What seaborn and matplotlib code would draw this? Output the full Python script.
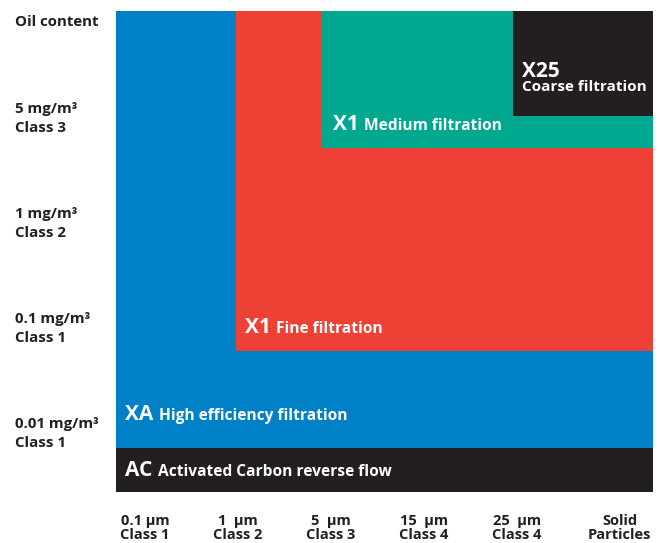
import matplotlib
matplotlib.use("Agg")
import matplotlib.pyplot as plt
import matplotlib.transforms as mtrans
import seaborn as sns
import pandas as pd

# ---------------- data ----------------
x_labels = ["0.1 µm\nClass 1", "1  µm\nClass 2", "5  µm\nClass 3",
            "15  µm\nClass 4", "25  µm\nClass 4", "Solid\nParticles"]
x_ticks = [0, 1, 2, 3, 4, 5.1]

y_labels = ["0.01 mg/m³\nClass 1", "0.1 mg/m³\nClass 1", "1 mg/m³\nClass 2",
            "5 mg/m³\nClass 3", "Oil content"]
y_ticks = [0, 1, 2, 3, 4]

codes = ["AC", "XA", "X1", "X1", "X25"]
names = ["Activated Carbon reverse flow", "High efficiency filtration",
         "Fine filtration", "Medium filtration", "Coarse filtration"]
x_start = [-0.31, -0.31, 0.98, 1.90, 3.96]
x_end = [5.46, 5.46, 5.46, 5.46, 5.46]
y_bottom = [-0.58, -0.16, 0.76, 2.70, 3.00]
y_top = [-0.16, 4.0, 4.0, 4.0, 4.0]
colors = ["#231F20", "#0080C6", "#EE4136", "#00A88F", "#231F20"]

df = pd.DataFrame({"code": codes, "label": names, "x0": x_start, "x1": x_end,
                   "y0": y_bottom, "y1": y_top, "color": colors})

# ---------------- plot ----------------
sns.set_theme(style="white")
plt.rcParams["font.family"] = ["Open Sans", "DejaVu Sans"]
txt_col = "#231F20"

fig = plt.figure(figsize=(6.6, 5.43), dpi=100)
ax = fig.add_axes([116 / 660, 51 / 543, 537 / 660, 481 / 543])

order = [1, 2, 3, 4, 0]
for i in order:
    r = df.iloc[i]
    ax.bar(r["x0"], r["y1"] - r["y0"], width=r["x1"] - r["x0"], bottom=r["y0"],
           align="edge", color=r["color"], linewidth=0)

ax.set_xlim(-0.31, 5.46)
ax.set_ylim(-0.58, 4.0)
sns.despine(ax=ax, left=True, bottom=True)
ax.set_xticks(x_ticks)
ax.set_xticklabels(x_labels, fontsize=10.5, fontweight="bold", color=txt_col,
                   linespacing=1.02)
ax.tick_params(axis="x", length=0, pad=16)
ax.set_yticks([])

ytrans = mtrans.blended_transform_factory(fig.transFigure, ax.transData)
for yv, lab in zip(y_ticks, y_labels):
    if lab == "Oil content":
        ax.text(15 / 660, yv - 0.04, lab, transform=ytrans, ha="left", va="top",
                fontsize=10.8, fontweight="bold", color=txt_col)
    else:
        ax.text(15 / 660, yv - 0.02, lab, transform=ytrans, ha="left",
                va="center", fontsize=10.8, fontweight="bold", color=txt_col,
                linespacing=1.45)

fig.canvas.draw()
rend = fig.canvas.get_renderer()
label_pos = {
    0: (0.10, -0.43, False),
    1: (0.10, 0.11, False),
    2: (0.10, 0.93, False),
    3: (0.12, 2.87, False),
    4: (0.09, 3.375, True),
}
for i, (dx, yv, stacked) in label_pos.items():
    r = df.iloc[i]
    xx = r["x0"] + dx
    if stacked:
        ax.text(xx, yv, r["code"], ha="left", va="baseline", fontsize=15,
                fontweight="bold", color="white")
        ax.text(xx, yv - 0.14, r["label"], ha="left", va="baseline",
                fontsize=11, fontweight="bold", color="white")
    else:
        t = ax.text(xx, yv, r["code"], ha="left", va="baseline", fontsize=15,
                    fontweight="bold", color="white")
        bb = t.get_window_extent(renderer=rend)
        x_data = ax.transData.inverted().transform((bb.x1 + 5, 0))[0]
        ax.text(x_data, yv, r["label"], ha="left", va="baseline", fontsize=11.2,
                fontweight="bold", color="white")

fig.savefig("out.png", dpi=100, facecolor="white")
